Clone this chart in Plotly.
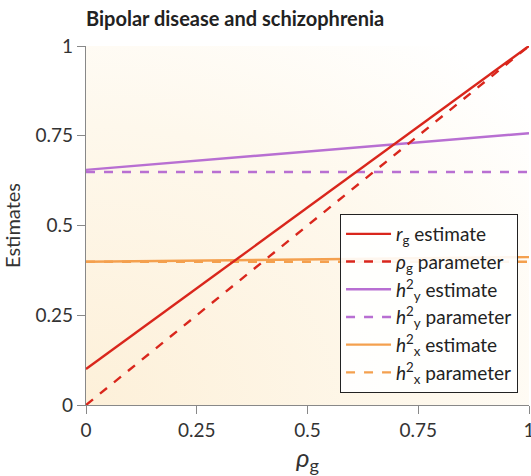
import plotly.graph_objects as go
import urllib.parse

# Data
rho = [0.0, 1.0]
rg_estimate = [0.10, 1.0]
rho_parameter = [0.0, 1.0]
h2y_estimate = [0.655, 0.757]
h2y_parameter = [0.649, 0.649]
h2x_estimate = [0.399, 0.412]
h2x_parameter = [0.399, 0.399]

x_ticks = [0, 0.25, 0.5, 0.75, 1]
x_ticklabels = ["0", "0.25", "0.5", "0.75", "1"]
y_ticks = [0, 0.25, 0.5, 0.75, 1]
y_ticklabels = ["0", "0.25", "0.5", "0.75", "1"]

RED = "#d9261c"
PURPLE = "#b86fd2"
ORANGE = "#f4a04e"

fig = go.Figure()

def add(y, name, color, dash):
    fig.add_trace(go.Scatter(x=rho, y=y, mode="lines", name=name,
                             line=dict(color=color, width=2.4, dash=dash)))

add(h2y_parameter, "<i>h</i><sup>2</sup><sub>y</sub> parameter", PURPLE, "dash")
add(h2y_estimate, "<i>h</i><sup>2</sup><sub>y</sub> estimate", PURPLE, "solid")
add(h2x_parameter, "<i>h</i><sup>2</sup><sub>x</sub> parameter", ORANGE, "dash")
add(h2x_estimate, "<i>h</i><sup>2</sup><sub>x</sub> estimate", ORANGE, "solid")
add(rho_parameter, "<i>ρ</i><sub>g</sub> parameter", RED, "dash")
add(rg_estimate, "<i>r</i><sub>g</sub> estimate", RED, "solid")

order = [5, 4, 1, 0, 3, 2]
for rank, idx in enumerate(order):
    fig.data[idx].legendrank = rank + 1

svg = ('<svg xmlns="http://www.w3.org/2000/svg" width="400" height="400" preserveAspectRatio="none">'
       '<defs><radialGradient id="g" cx="0" cy="1" r="1.3" gradientUnits="objectBoundingBox">'
       '<stop offset="0" stop-color="#fdf0d9"/><stop offset="0.6" stop-color="#fef8ec"/>'
       '<stop offset="1" stop-color="#ffffff"/></radialGradient></defs>'
       '<rect width="400" height="400" fill="url(#g)"/></svg>')
src = "data:image/svg+xml;charset=utf-8," + urllib.parse.quote(svg)

fig.update_layout(
    width=531, height=476,
    margin=dict(l=86, r=2, t=46, b=71, autoexpand=False),
    paper_bgcolor="white", plot_bgcolor="white",
    font=dict(family="Lato, sans-serif", size=19, color="#222"),
    title=dict(text="<b>Bipolar disease and schizophrenia</b>", x=0, xref="paper",
               xanchor="left", y=0.975, yanchor="top",
               font=dict(size=20, color="#222")),
    images=[dict(source=src, xref="paper", yref="paper", x=0, y=1,
                 sizex=1, sizey=1, sizing="stretch", layer="below")],
    legend=dict(x=0.573, y=0.034, xanchor="left", yanchor="bottom",
                bgcolor="rgba(255,255,255,0.9)", bordercolor="#222", borderwidth=1.2,
                font=dict(size=19, color="#222"), tracegroupgap=0,
                itemwidth=45),
    showlegend=True,
)

fig.update_xaxes(range=[0, 1], tickvals=x_ticks, ticktext=x_ticklabels,
                 showgrid=False, zeroline=False, showline=True, linecolor="#888",
                 linewidth=1.3, ticks="outside", ticklen=8, tickcolor="#888",
                 ticklabeloverflow="allow", automargin=False,
                 tickfont=dict(size=19, color="#333"),
                 title=dict(text="<i>ρ</i><sub>g</sub>", font=dict(size=26, color="#333"), standoff=8))
fig.update_yaxes(range=[0, 1], tickvals=y_ticks, ticktext=y_ticklabels,
                 showgrid=False, zeroline=False, showline=True, linecolor="#888",
                 linewidth=1.3, ticks="outside", ticklen=8, tickcolor="#888",
                 automargin=False,
                 tickfont=dict(size=19, color="#333"),
                 title=dict(text="Estimates", font=dict(size=20, color="#333"), standoff=12))

fig.write_html("out.html")
